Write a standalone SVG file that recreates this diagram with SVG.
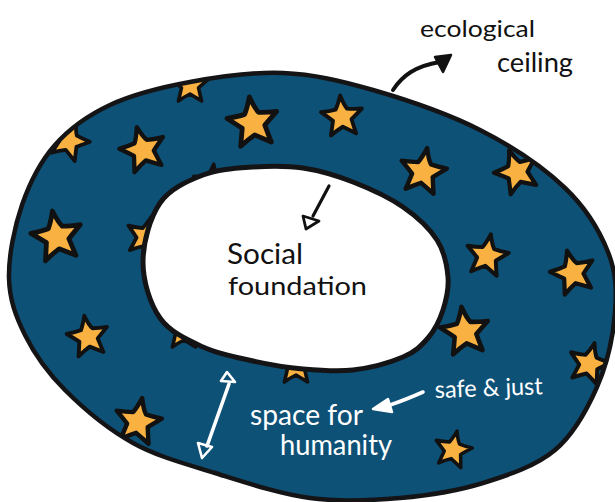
<svg xmlns="http://www.w3.org/2000/svg" xmlns:xlink="http://www.w3.org/1999/xlink" width="615" height="502" viewBox="0 0 615 502">
<style>
.ink{font-family:Lato,"Open Sans","Liberation Sans",sans-serif;fill:#111;}
.chalk{font-family:Lato,"Open Sans","Liberation Sans",sans-serif;fill:#fff;}
.star{fill:#f9b241;stroke:#111;stroke-width:4;stroke-linejoin:round;}
.edge{fill:none;stroke:#141416;stroke-width:4.5;stroke-linejoin:round;}
</style>
<defs>
<path id="outerShape" d="M9,278 C8.5,256.3 14.3,227.2 22,205 C29.7,182.8 40.3,161.7 55,145 C69.7,128.3 87.5,115.5 110,105 C132.5,94.5 161.2,87.3 190,82 C218.8,76.7 252.5,71.7 283,73 C313.5,74.3 340.2,80.5 373,90 C405.8,99.5 448,113.7 480,130 C512,146.3 543.7,167.7 565,188 C586.3,208.3 599.7,231.2 608,252 C616.3,272.8 616.8,290.5 615,313 C613.2,335.5 607,364.2 597,387 C587,409.8 574,434 555,450 C536,466 508.8,475 483,483 C457.2,491 428.8,495.5 400,498 C371.2,500.5 340.8,502.2 310,498 C279.2,493.8 244.5,482.2 215,473 C185.5,463.8 158,456.8 133,443 C108,429.2 83,408 65,390 C47,372 34.3,353.7 25,335 C15.7,316.3 9.5,299.7 9,278 Z"/>
<path id="innerShape" d="M143,262 C143,242.8 150,217.5 160,203 C170,188.5 187.5,181 203,175 C218.5,169 236.3,168.2 253,167 C269.7,165.8 286.3,165.5 303,168 C319.7,170.5 336.3,175.5 353,182 C369.7,188.5 389,197.3 403,207 C417,216.7 429.5,228.3 437,240 C444.5,251.7 447,265.3 448,277 C449,288.7 446.3,299.8 443,310 C439.7,320.2 434.7,330.2 428,338 C421.3,345.8 415.5,351.7 403,357 C390.5,362.3 369.7,368 353,370 C336.3,372 319.7,370.5 303,369 C286.3,367.5 269.7,364.7 253,361 C236.3,357.3 218.5,354.2 203,347 C187.5,339.8 170,332.2 160,318 C150,303.8 143,281.2 143,262 Z"/>
<path id="star" d="M0,-22 Q3,-12 5.9,-8.1 Q12,-7 20.9,-6.8 Q13,0 9.5,3.1 Q11,10 12.9,17.8 Q5,13 0,10 Q-6,13 -12.9,17.8 Q-11,10 -9.5,3.1 Q-14,-1 -20.9,-6.8 Q-12,-7 -5.9,-8.1 Q-3,-13 0,-22 Z"/>
<clipPath id="ringClip"><use xlink:href="#outerShape"/></clipPath>
</defs>

<g id="ecological-ceiling">
<use xlink:href="#outerShape" fill="#0e5177"/>
<g clip-path="url(#ringClip)">
<use xlink:href="#star" class="star" transform="translate(190,85) rotate(0) scale(0.9)"/>
<use xlink:href="#star" class="star" transform="translate(253,123) rotate(-8) scale(1.2)"/>
<use xlink:href="#star" class="star" transform="translate(143,150) rotate(-15) scale(1.08)"/>
<use xlink:href="#star" class="star" transform="translate(69,141) rotate(20) scale(0.95)"/>
<use xlink:href="#star" class="star" transform="translate(57,237) rotate(-10) scale(1.2)"/>
<use xlink:href="#star" class="star" transform="translate(146,237) rotate(15) scale(0.95)"/>
<use xlink:href="#star" class="star" transform="translate(212,184) rotate(5) scale(0.9)"/>
<use xlink:href="#star" class="star" transform="translate(342,117) rotate(-5) scale(0.98)"/>
<use xlink:href="#star" class="star" transform="translate(423,172) rotate(10) scale(1.1)"/>
<use xlink:href="#star" class="star" transform="translate(517,172) rotate(-20) scale(1.05)"/>
<use xlink:href="#star" class="star" transform="translate(487,256) rotate(10) scale(1.0)"/>
<use xlink:href="#star" class="star" transform="translate(573,273) rotate(-15) scale(1.05)"/>
<use xlink:href="#star" class="star" transform="translate(88,337) rotate(-10) scale(0.98)"/>
<use xlink:href="#star" class="star" transform="translate(138,422) rotate(10) scale(1.1)"/>
<use xlink:href="#star" class="star" transform="translate(184,331) rotate(0) scale(0.9)"/>
<use xlink:href="#star" class="star" transform="translate(296,366) rotate(0) scale(0.9)"/>
<use xlink:href="#star" class="star" transform="translate(465,332) rotate(-8) scale(1.15)"/>
<use xlink:href="#star" class="star" transform="translate(589,364) rotate(15) scale(0.98)"/>
<use xlink:href="#star" class="star" transform="translate(453,450) rotate(12) scale(0.88)"/>
</g>
<use xlink:href="#outerShape" class="edge"/>
<text class="ink" x="420" y="37" font-size="24" textLength="115" lengthAdjust="spacingAndGlyphs">ecological</text>
<text class="ink" x="497" y="72" font-size="26" textLength="76" lengthAdjust="spacingAndGlyphs">ceiling</text>
</g>

<g id="social-foundation">
<use xlink:href="#innerShape" fill="#fff" stroke="#141416" stroke-width="5" stroke-linejoin="round"/>
<text class="ink" x="227" y="264" font-size="28" textLength="76" lengthAdjust="spacingAndGlyphs">Social</text>
<text class="ink" x="228" y="295" font-size="25" textLength="139" lengthAdjust="spacingAndGlyphs">foundation</text>
</g>

<g id="safe-and-just-space">
<text class="chalk" x="250" y="425" font-size="28" textLength="113" lengthAdjust="spacingAndGlyphs">space for</text>
<text class="chalk" x="280" y="455" font-size="28" textLength="112" lengthAdjust="spacingAndGlyphs">humanity</text>
<text class="chalk" x="435" y="398" font-size="24" textLength="108" lengthAdjust="spacingAndGlyphs" transform="rotate(-2 435 398)">safe &amp; just</text>
</g>

<g id="connectors" stroke-linecap="round" stroke-linejoin="round">
<path d="M393,90 C402,76 415,66 440,62" fill="none" stroke="#111" stroke-width="4"/>
<polygon points="451,55 435,57 443,72" fill="#111" stroke="#111" stroke-width="2.5"/>
<path d="M329,186 Q322,199 313,216" fill="none" stroke="#111" stroke-width="3.2"/>
<polygon points="303,216 319,221 306,229" fill="#fff" stroke="#111" stroke-width="2.8"/>
<path d="M229,384 L207,446" fill="none" stroke="#fff" stroke-width="3.6"/>
<polygon points="227,372 235,382 221,381" fill="none" stroke="#fff" stroke-width="2.6"/>
<polygon points="198,443 212,447 202,458" fill="none" stroke="#fff" stroke-width="2.6"/>
<path d="M423,392 Q405,400 390,405" fill="none" stroke="#fff" stroke-width="3.6"/>
<polygon points="373,409 388,399 392,412" fill="#fff" stroke="#fff" stroke-width="2.5"/>
</g>
</svg>
